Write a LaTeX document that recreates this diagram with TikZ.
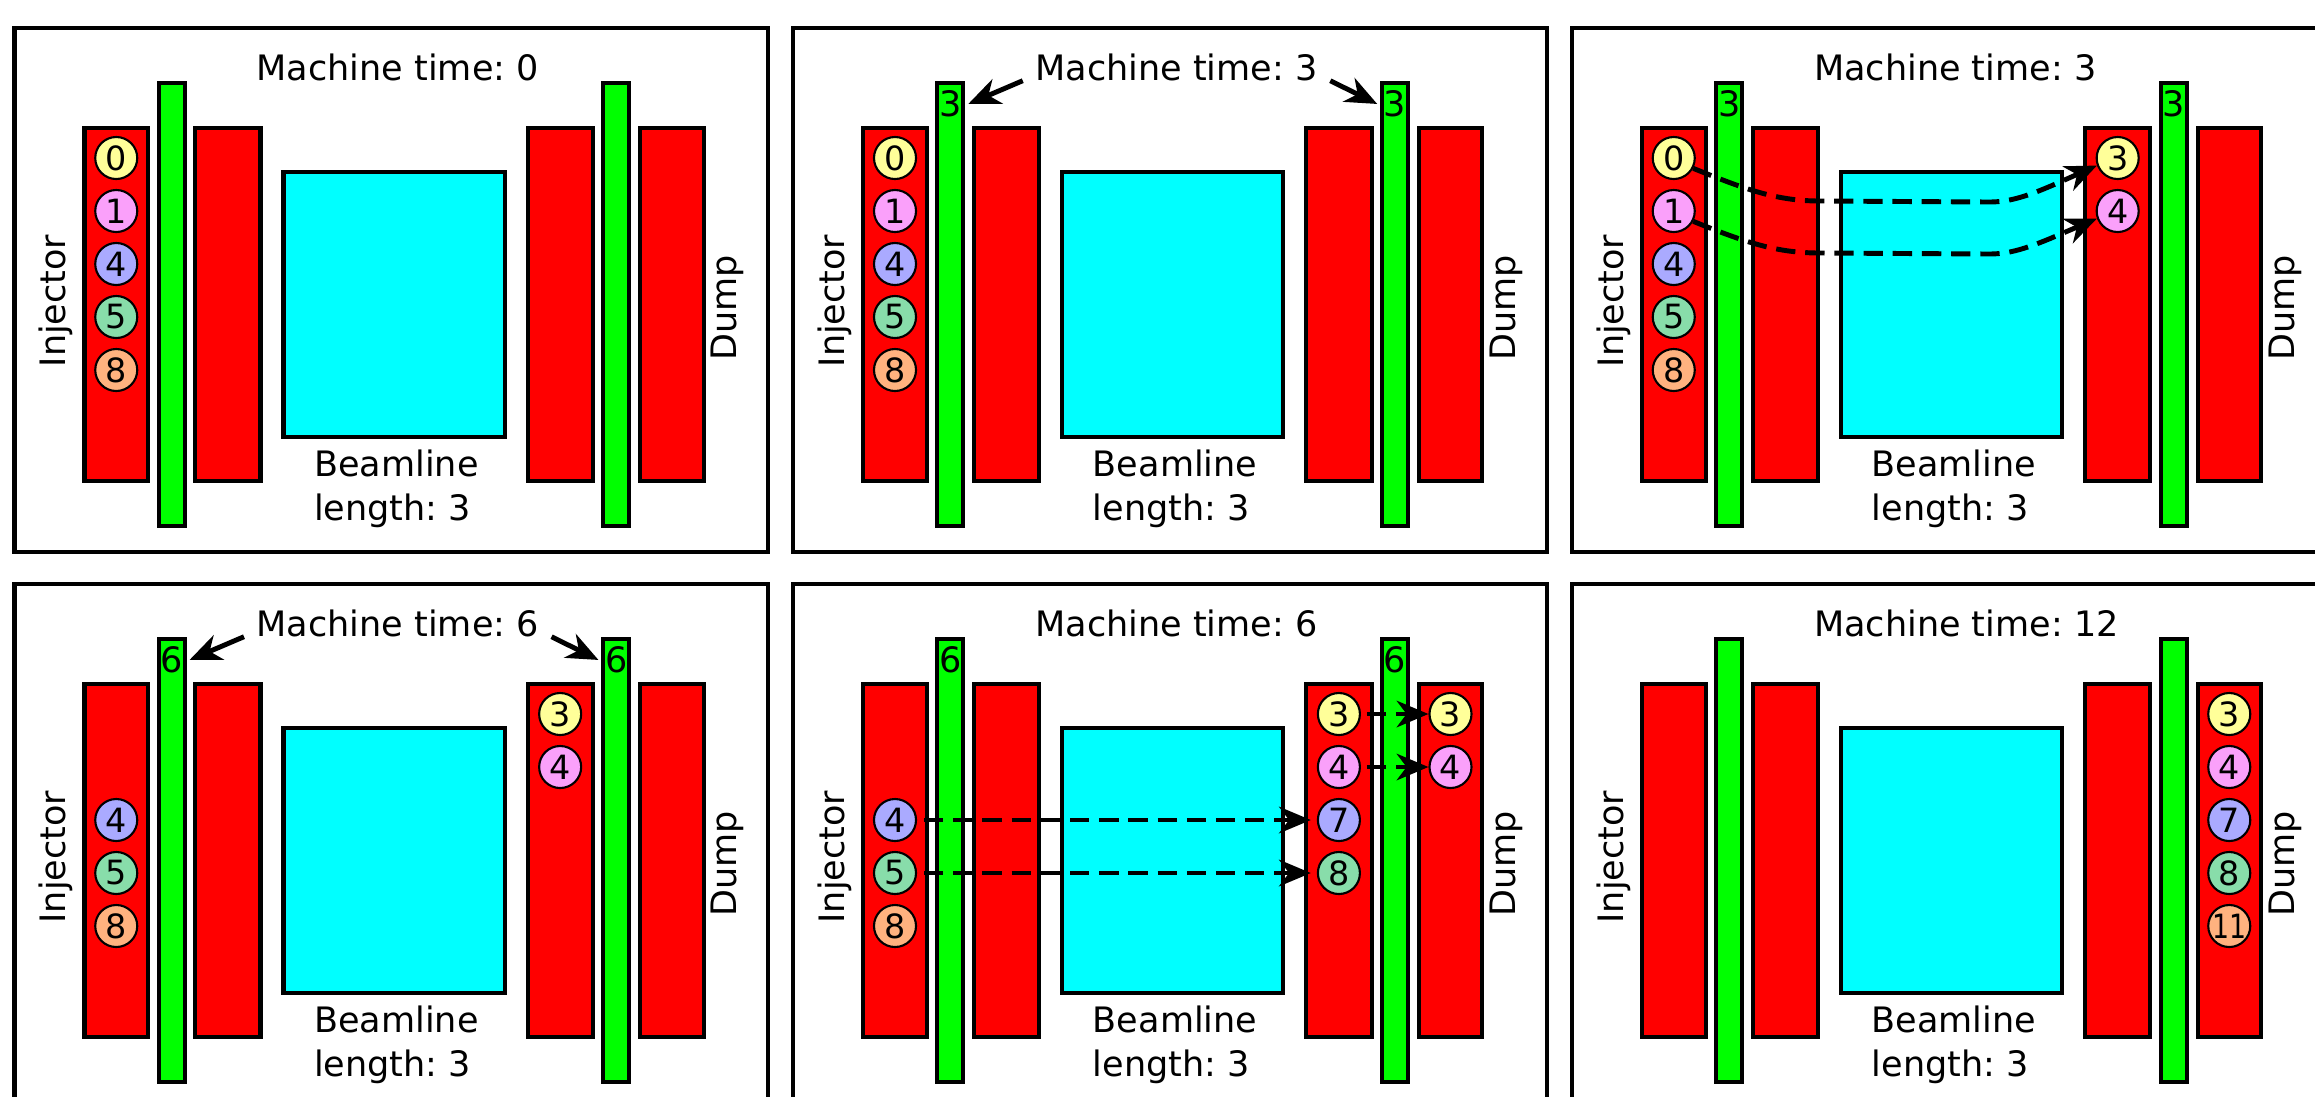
\documentclass[tikz,border=0pt]{standalone}
\usepackage{fontspec}
\usepackage{graphicx}
\setmainfont{DejaVu Sans}
\frenchspacing
\usetikzlibrary{arrows.meta}
\definecolor{barred}{RGB}{255,0,0}
\definecolor{bargreen}{RGB}{0,255,0}
\definecolor{boxcyan}{RGB}{0,255,255}
\definecolor{byel}{RGB}{255,255,153}
\definecolor{bpink}{RGB}{250,160,250}
\definecolor{blav}{RGB}{170,170,255}
\definecolor{bmint}{RGB}{136,221,170}
\definecolor{borange}{RGB}{255,178,127}
\tikzset{
  mainfont/.style={font=\fontsize{9.96pt}{12pt}\selectfont},
  framebox/.style={draw=black,line width=1.14pt},
  redbox/.style={draw=black,fill=barred,line width=1.14pt},
  greenbox/.style={draw=black,fill=bargreen,line width=1.14pt},
  cyanbox/.style={draw=black,fill=boxcyan,line width=1.14pt},
  ball/.style={circle,draw=black,line width=0.6pt,minimum size=0.42cm,inner sep=0pt,font=\fontsize{9.5pt}{10pt}\selectfont},
  title/.style={mainfont,anchor=base west,inner xsep=0.12cm,inner ysep=0pt},
  sidetext/.style={mainfont,rotate=90,anchor=base,inner sep=0pt},
  beamtext/.style={mainfont,anchor=base west,inner sep=0pt},
  glabel/.style={mainfont,anchor=base,inner xsep=0.06cm,inner ysep=0pt},
  arr/.style={-{Stealth[length=9pt,width=7.5pt,inset=2.8pt]},line width=1.4pt},
  darr/.style={arr,dash pattern=on 5.5pt off 2.8pt},
}
\newcommand{\panelframe}[4]{%
  \begin{scope}[shift={(#2,#3)}]
    \draw[framebox] (0,28) rectangle (753.5,552);
    \draw[redbox] (70,128) rectangle (133.5,481);
    \draw[greenbox] (144.2,82.7) rectangle (170.2,525.5);
    \draw[redbox] (180.7,128) rectangle (246,481);
    \draw[cyanbox] (269,172) rectangle (490,437);
    \draw[redbox] (513,128) rectangle (578.3,481);
    \draw[greenbox] (588.8,82.7) rectangle (614.8,525.5);
    \draw[redbox] (625.5,128) rectangle (689,481);
    \node[title] (t#1) at (229.5,80.7) {Machine time: #4};
    \node[sidetext] (inj#1) at (51,301) {Injector};
    \node[sidetext] (dump#1) at (722,308) {Dump};
    \node[beamtext] (bla#1) at (299,476.7) {Beamline};
    \node[beamtext] (blb#1) at (299,520.7) {length: 3};
  \end{scope}}
\begin{document}
\begin{tikzpicture}[x=0.01cm,y=-0.01cm]
\useasboundingbox (0,0) rectangle (2315,1096);
\clip (0,0) rectangle (2315,1096);
\panelframe{A}{14.5}{0}{0}
\panelframe{B}{793.25}{0}{3}
\panelframe{C}{1572}{0}{3}
\panelframe{D}{14.5}{556}{6}
\panelframe{E}{793.25}{556}{6}
\panelframe{F}{1572}{556}{12}
% Panel A
\begin{scope}[shift={(14.5,0)}]
  \node[ball,fill=byel] (A0) at (101.75,158) {0};
  \node[ball,fill=bpink] (A1) at (101.75,211) {1};
  \node[ball,fill=blav] (A4) at (101.75,264) {4};
  \node[ball,fill=bmint] (A5) at (101.75,317) {5};
  \node[ball,fill=borange] (A8) at (101.75,370) {8};
\end{scope}
% Panel B
\begin{scope}[shift={(793.25,0)}]
  \node[ball,fill=byel] (B0) at (101.75,158) {0};
  \node[ball,fill=bpink] (B1) at (101.75,211) {1};
  \node[ball,fill=blav] (B4) at (101.75,264) {4};
  \node[ball,fill=bmint] (B5) at (101.75,317) {5};
  \node[ball,fill=borange] (B8) at (101.75,370) {8};
  \node[glabel] (gLB) at (157.2,116.7) {3};
  \node[glabel] (gRB) at (601.8,116.7) {3};
  \draw[arr] (tB.base west) -- (gLB.east);
  \draw[arr] (tB.base east) -- (gRB.west);
\end{scope}
% Panel C
\begin{scope}[shift={(1572,0)}]
  \node[ball,fill=byel] (C0) at (101.75,158) {0};
  \node[ball,fill=bpink] (C1) at (101.75,211) {1};
  \node[ball,fill=blav] (C4) at (101.75,264) {4};
  \node[ball,fill=bmint] (C5) at (101.75,317) {5};
  \node[ball,fill=borange] (C8) at (101.75,370) {8};
  \node[ball,fill=byel] (C3r) at (545.65,158) {3};
  \node[ball,fill=bpink] (C4r) at (545.65,211) {4};
  \node[glabel] (gLC) at (157.2,116.7) {3};
  \node[glabel] (gRC) at (601.8,116.7) {3};
  \draw[darr] (C0.-28) .. controls (175,190) and (205,201) .. (248,201)
     -- (418,202) .. controls (445,202) and (470,190) .. (C3r.200);
  \draw[darr] (C1.-28) .. controls (175,243) and (205,253) .. (248,253)
     -- (418,254) .. controls (445,254) and (470,242) .. (C4r.200);
\end{scope}
% Panel D
\begin{scope}[shift={(14.5,556)}]
  \node[ball,fill=blav] (D4) at (101.75,264) {4};
  \node[ball,fill=bmint] (D5) at (101.75,317) {5};
  \node[ball,fill=borange] (D8) at (101.75,370) {8};
  \node[ball,fill=byel] (D3r) at (545.65,158) {3};
  \node[ball,fill=bpink] (D4r) at (545.65,211) {4};
  \node[glabel] (gLD) at (157.2,116.7) {6};
  \node[glabel] (gRD) at (601.8,116.7) {6};
  \draw[arr] (tD.base west) -- (gLD.east);
  \draw[arr] (tD.base east) -- (gRD.west);
\end{scope}
% Panel E
\begin{scope}[shift={(793.25,556)}]
  \node[ball,fill=blav] (E4) at (101.75,264) {4};
  \node[ball,fill=bmint] (E5) at (101.75,317) {5};
  \node[ball,fill=borange] (E8) at (101.75,370) {8};
  \node[ball,fill=byel] (E3r) at (545.65,158) {3};
  \node[ball,fill=bpink] (E4r) at (545.65,211) {4};
  \node[ball,fill=blav] (E7r) at (545.65,264) {7};
  \node[ball,fill=bmint] (E8r) at (545.65,317) {8};
  \node[ball,fill=byel] (E3d) at (657.25,158) {3};
  \node[ball,fill=bpink] (E4d) at (657.25,211) {4};
  \node[glabel] (gLE) at (157.2,116.7) {6};
  \node[glabel] (gRE) at (601.8,116.7) {6};
  \draw[darr,shorten <=0.07cm,shorten >=0.06cm] (E4.east) -- (E7r.west);
  \draw[darr,shorten <=0.07cm,shorten >=0.06cm] (E5.east) -- (E8r.west);
  \draw[darr,shorten <=0.06cm] (E3r.east) -- (E3d.west);
  \draw[darr,shorten <=0.06cm] (E4r.east) -- (E4d.west);
\end{scope}
% Panel F
\begin{scope}[shift={(1572,556)}]
  \node[ball,fill=byel] (F3d) at (657.25,158) {3};
  \node[ball,fill=bpink] (F4d) at (657.25,211) {4};
  \node[ball,fill=blav] (F7d) at (657.25,264) {7};
  \node[ball,fill=bmint] (F8d) at (657.25,317) {8};
  \node[ball,fill=borange] (F11d) at (657.25,370) {\scalebox{0.8}[1]{11}};
\end{scope}
\end{tikzpicture}
\end{document}
